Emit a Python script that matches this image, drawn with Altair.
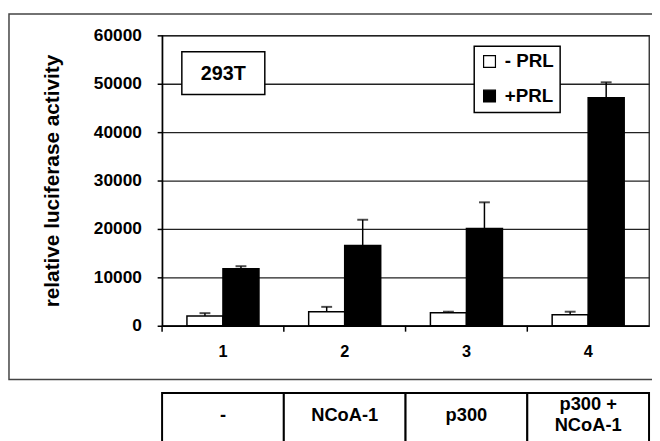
import altair as alt
import pandas as pd

# ---- data ----
groups = ["1", "2", "3", "4"]
conditions = ["- PRL", "+PRL"]
minus_prl = [2000, 2900, 2700, 2250]
minus_err = [600, 1000, 200, 650]
plus_prl = [11800, 16600, 20100, 47100]
plus_err = [500, 5300, 5400, 3200]
table_labels = ["-", "NCoA-1", "p300", "p300 +\nNCoA-1"]
y_ticks = [0, 10000, 20000, 30000, 40000, 50000, 60000]
cell_line = ["293T"]

rows = []
for i, g in enumerate(groups):
    rows.append({"group": g, "cond": conditions[0], "value": minus_prl[i],
                 "top": minus_prl[i] + minus_err[i]})
    rows.append({"group": g, "cond": conditions[1], "value": plus_prl[i],
                 "top": plus_prl[i] + plus_err[i]})
df = pd.DataFrame(rows)
tdf = pd.DataFrame({"group": groups, "label": table_labels})
one = pd.DataFrame({"label": cell_line})

FONT = "Liberation Sans"
x_scale = alt.Scale(domain=groups, paddingInner=0, paddingOuter=0)
y_scale = alt.Scale(domain=[0, 60000], nice=False)
off_scale = alt.Scale(domain=conditions, paddingInner=0, paddingOuter=0.69)

x_axis = alt.Axis(title=None, labelAngle=0, ticks=False, grid=False,
                  labelFont=FONT, labelFontWeight="bold", labelFontSize=16.5,
                  labelColor="black", labelPadding=18,
                  domainColor="black", domainWidth=1.5)
y_axis = alt.Axis(title="relative luciferase activity", values=y_ticks, format="d",
                  grid=True, gridColor="#222", gridWidth=1.3,
                  domainColor="black", domainWidth=1.5,
                  tickColor="black", tickSize=5, tickWidth=1.5,
                  labelFont=FONT, labelFontWeight="bold", labelFontSize=17.5,
                  labelColor="black", labelPadding=16,
                  titleFont=FONT, titleFontWeight="bold", titleFontSize=21,
                  titleColor="black", titleAngle=-90, titleX=-105, titleY=147,
                  titleAlign="center", titleBaseline="alphabetic")

X = alt.X("group:N", scale=x_scale, sort=groups, axis=x_axis)
XOFF = alt.XOffset("cond:N", scale=off_scale, sort=conditions)

frame = alt.Chart(one).mark_rect(fill="white", fillOpacity=0, stroke="#444", strokeWidth=1.5).encode(
    x=alt.value(-155), x2=alt.value(520), y=alt.value(-21.5), y2=alt.value(348.5))

cells = alt.Chart(tdf).mark_rect(fill="white", stroke="black", strokeWidth=2).encode(
    x=X, y=alt.value(362), y2=alt.value(470))

single_text = alt.Chart(tdf).transform_filter(
    "indexof(datum.label, '\\n') < 0"
).mark_text(font=FONT, fontWeight="bold", fontSize=18.5, color="black",
            baseline="middle").encode(x=X, y=alt.value(384), text="label:N")

multi_text = alt.Chart(tdf).transform_filter(
    "indexof(datum.label, '\\n') >= 0"
).mark_text(font=FONT, fontWeight="bold", fontSize=18.5, color="black",
            lineBreak="\n", lineHeight=20.6, baseline="middle").encode(
    x=X, y=alt.value(373.5), text="label:N")

sep_ticks = alt.Chart(tdf).mark_rule(color="black", strokeWidth=1.5).encode(
    x=alt.X("group:N", scale=x_scale, sort=groups, axis=x_axis, bandPosition=0),
    y=alt.value(294), y2=alt.value(300))

bars = alt.Chart(df).mark_bar(stroke="black", strokeWidth=1.5).encode(
    x=X, xOffset=XOFF, y=alt.Y("value:Q", scale=y_scale, axis=y_axis),
    fill=alt.Fill("cond:N", sort=conditions,
                  scale=alt.Scale(domain=conditions, range=["white", "black"]),
                  legend=alt.Legend(title=None, orient="none", legendX=316, legendY=11,
                                    direction="vertical", symbolType="square", symbolSize=144,
                                    symbolStrokeColor="black", symbolStrokeWidth=1.2,
                                    labelFont=FONT, labelFontWeight="bold", labelFontSize=19,
                                    labelColor="black", labelOffset=6, rowPadding=15,
                                    padding=6, strokeColor="black", fillColor="white")))

err = alt.Chart(df).mark_rule(color="black", strokeWidth=1.5).encode(
    x=X, xOffset=XOFF, y=alt.Y("value:Q", scale=y_scale, axis=y_axis), y2="top:Q")

caps = alt.Chart(df).mark_tick(color="black", thickness=2, size=11, orient="horizontal").encode(
    x=X, xOffset=XOFF, y=alt.Y("top:Q", scale=y_scale, axis=y_axis))

label_box = alt.Chart(one).mark_rect(fill="white", stroke="black", strokeWidth=1.5).encode(
    x=alt.value(20), x2=alt.value(104), y=alt.value(16.6), y2=alt.value(60))
label_text = alt.Chart(one).mark_text(font=FONT, fontWeight="bold", fontSize=20, color="black",
                                      baseline="middle", align="center").encode(
    x=alt.value(62), y=alt.value(39.5), text="label:N")

chart = alt.layer(bars, err, caps, frame, cells, single_text, multi_text, sep_ticks,
                  label_box, label_text).properties(
    width=493, height=294,
    autosize=alt.AutoSizeParams(type="none"),
    padding={"left": 156, "top": 25, "right": 3, "bottom": 114},
    background="white",
).configure_view(stroke="#222", strokeWidth=1.3).configure_legend(strokeWidth=1.5, cornerRadius=0)

chart.save("out.html", embed_options={"renderer": "svg", "actions": False})
